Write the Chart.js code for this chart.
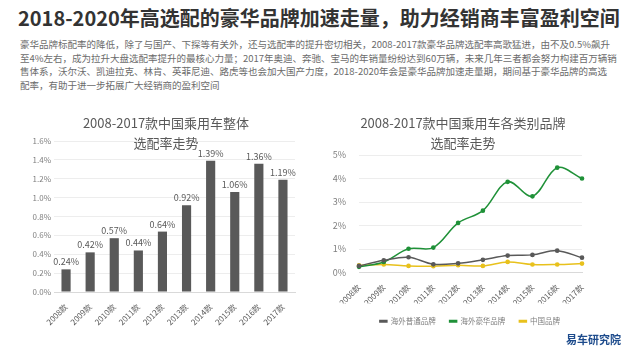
<!DOCTYPE html>
<html>
<head>
<meta charset="utf-8">
<script src="https://cdn.jsdelivr.net/npm/chart.js@4"></script>
<style>
  body { margin: 0; width: 630px; height: 354px; background: #fff; position: relative; overflow: hidden;
         font-family: "Noto Sans CJK SC", "Noto Sans", sans-serif; }
  #title { position: absolute; left: 18px; top: 4px; width: 594px; font-size: 20px; font-weight: bold;
           color: #333; white-space: nowrap; line-height: 28px; }
  #para { position: absolute; left: 20px; top: 38px; font-size: 9.5px; color: #6b6b6b; line-height: 13.7px; }
  #para div { white-space: nowrap; text-align: justify; text-align-last: justify; }
  .ctitle { position: absolute; font-size: 13px; color: #595959; text-align: center; line-height: 20px; white-space: nowrap; }
  #logo { position: absolute; left: 566px; top: 331px; font-size: 11px; font-weight: bold; color: #1d4b8c; }
  canvas { position: absolute; }
</style>
</head>
<body>
<div id="title">2018-2020年高选配的豪华品牌加速走量，助力经销商丰富盈利空间</div>
<div id="para">
  <div style="width:590px">豪华品牌标配率的降低，除了与国产、下探等有关外，还与选配率的提升密切相关，2008-2017款豪华品牌选配率高歌猛进，由不及0.5%飙升</div>
  <div style="width:590px">至4%左右，成为拉升大盘选配率提升的最核心力量；2017年奥迪、奔驰、宝马的年销量纷纷达到60万辆，未来几年三者都会努力构建百万辆销</div>
  <div style="width:570px">售体系，沃尔沃、凯迪拉克、林肯、英菲尼迪、路虎等也会加大国产力度，2018-2020年会是豪华品牌加速走量期，期间基于豪华品牌的高选</div>
  <div style="text-align-last:left">配率，有助于进一步拓展广大经销商的盈利空间</div>
</div>

<canvas id="barChart" width="300" height="200" style="left:0;top:130px"></canvas>
<canvas id="lineChart" width="300" height="205" style="left:320px;top:130px"></canvas>

<div class="ctitle" style="left:66px;top:113px;width:200px">2008-2017款中国乘用车整体<br>选配率走势</div>
<div class="ctitle" style="left:343px;top:113px;width:240px">2008-2017款中国乘用车各类别品牌<br>选配率走势</div>
<div id="logo">易车研究院</div>

<script>
// model years
const years = ['2008款', '2009款', '2010款', '2011款', '2012款', '2013款', '2014款', '2015款', '2016款', '2017款'];

// overall option rate (%)
const overallRate = [0.24, 0.42, 0.57, 0.44, 0.64, 0.92, 1.39, 1.06, 1.36, 1.19];

// option rate by brand type (%)
const foreignMainstream = [0.28, 0.52, 0.65, 0.35, 0.39, 0.54, 0.72, 0.75, 0.93, 0.63];
const foreignLuxury = [0.24, 0.45, 1.01, 1.06, 2.11, 2.63, 3.86, 3.24, 4.46, 4.00];
const chineseBrands = [0.30, 0.34, 0.28, 0.27, 0.31, 0.28, 0.45, 0.34, 0.34, 0.38];

const seriesNames = ['海外普通品牌', '海外豪华品牌', '中国品牌'];

const fontFamily = '"Noto Sans CJK SC", sans-serif';
const tickFont = { family: fontFamily, size: 8 };
const gridColor = '#ededed';

// draws value labels above bars
const barLabels = {
  id: 'barLabels',
  afterDatasetsDraw(chart) {
    const ctx = chart.ctx;
    const meta = chart.getDatasetMeta(0);
    ctx.save();
    ctx.font = '9px ' + fontFamily;
    ctx.fillStyle = '#595959';
    ctx.textAlign = 'center';
    ctx.textBaseline = 'bottom';
    meta.data.forEach((bar, i) => {
      ctx.fillText(overallRate[i].toFixed(2) + '%', bar.x, bar.y - 3);
    });
    ctx.restore();
  }
};

// nudge the legend so it centres under the plot like the original
const shiftLegend = {
  id: 'shiftLegend',
  afterLayout(chart) {
    chart.legend.left += 19;
    chart.legend.right += 19;
  }
};

new Chart(document.getElementById('barChart').getContext('2d'), {
  type: 'bar',
  data: {
    labels: years,
    datasets: [{
      data: overallRate,
      backgroundColor: '#595959',
      barPercentage: 0.38,
      categoryPercentage: 1
    }]
  },
  options: {
    responsive: false,
    animation: false,
    layout: { padding: { top: 11, right: 5, left: 0, bottom: 0 } },
    plugins: { legend: { display: false }, tooltip: { enabled: false } },
    scales: {
      y: {
        min: 0, max: 1.6,
        ticks: { stepSize: 0.2, color: '#7f7f7f', font: tickFont, padding: 3,
                 callback: v => v.toFixed(1) + '%' },
        grid: { color: gridColor, drawTicks: false },
        border: { display: false },
        afterFit(s) { s.width = 54; }
      },
      x: {
        ticks: { color: '#595959', font: tickFont, minRotation: 45, maxRotation: 45, padding: 2 },
        grid: { display: false },
        border: { color: '#d9d9d9' },
        afterFit(s) { s.height = 38; }
      }
    }
  },
  plugins: [barLabels]
});

const lineColors = ['#595959', '#1f9138', '#e8c11c'];
const lineData = [foreignMainstream, foreignLuxury, chineseBrands];

new Chart(document.getElementById('lineChart').getContext('2d'), {
  type: 'line',
  data: {
    labels: years,
    datasets: lineData.map((d, i) => ({
      label: seriesNames[i],
      data: d,
      borderColor: lineColors[i],
      backgroundColor: lineColors[i],
      borderWidth: 1.5,
      pointRadius: 1.6,
      tension: 0.35
    }))
  },
  options: {
    responsive: false,
    animation: false,
    layout: { padding: { top: 25, right: 38, left: 0, bottom: 0 } },
    plugins: {
      tooltip: { enabled: false },
      legend: {
        position: 'bottom',
        labels: { color: '#7f7f7f', font: { family: fontFamily, size: 7.5 }, boxWidth: 7, boxHeight: 1.5, padding: 14 }
      }
    },
    scales: {
      y: {
        min: 0, max: 5,
        ticks: { stepSize: 1, color: '#7f7f7f', font: { family: fontFamily, size: 9 }, padding: 13,
                 callback: v => v + '%' },
        grid: { color: gridColor, drawTicks: false },
        border: { display: false },
        afterFit(s) { s.width = 39; }
      },
      x: {
        offset: false,
        ticks: { color: '#595959', font: tickFont, minRotation: 45, maxRotation: 45, padding: 2 },
        grid: { display: false },
        border: { color: '#d9d9d9' },
        afterFit(s) { s.height = 31; }
      }
    }
  },
  plugins: [shiftLegend]
});
</script>
</body>
</html>
